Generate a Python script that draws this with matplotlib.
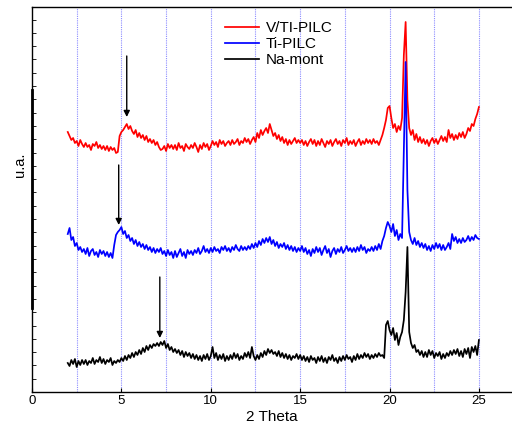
import matplotlib
matplotlib.use('Agg')
import matplotlib.pyplot as plt
import numpy as np

plt.rcParams['font.family'] = ['Liberation Sans', 'DejaVu Sans']

# 2-theta scan, 2 to 25 deg, 0.1 deg step
two_theta = np.round(np.arange(2.0, 25.05, 0.1), 1)

# intensities (arbitrary units, traces already stacked with offsets)
vti_pilc = [
    260, 256, 252, 254, 249, 251, 246, 252, 248, 245,
    249, 245, 247, 242, 248, 246, 250, 244, 247, 243,
    246, 242, 246, 241, 245, 242, 244, 239, 240, 256,
    260, 262, 265, 268, 263, 266, 261, 258, 262, 255,
    259, 254, 257, 252, 256, 250, 253, 249, 252, 247,
    250, 245, 242, 243, 246, 241, 248, 244, 247, 243,
    247, 242, 249, 244, 246, 241, 248, 245, 243, 247,
    244, 249, 245, 240, 247, 243, 249, 245, 248, 242,
    246, 251, 247, 250, 245, 252, 248, 251, 246, 249,
    251, 247, 252, 248, 250, 253, 247, 251, 249, 254,
    250, 253, 248, 252, 255, 250, 259, 254, 262, 257,
    261, 264, 259, 268, 262, 256, 259, 253, 257, 251,
    255, 249, 253, 247, 252, 248, 251, 254, 249, 252,
    249, 252, 247, 251, 246, 250, 253, 248, 252, 246,
    251, 247, 253, 249, 245, 251, 248, 252, 246, 250,
    253, 248, 251, 246, 252, 249, 254, 247, 251, 248,
    252, 246, 250, 253, 247, 251, 248, 253, 249, 252,
    248, 253, 249, 251, 247, 252, 257, 264, 272, 284,
    286, 274, 264, 268, 260, 266, 262, 274, 337, 370,
    292, 264, 257, 262, 252, 258, 250, 255, 249, 253,
    248, 252, 246, 251, 254, 249, 253, 248, 252, 256,
    251, 255, 250, 262, 254, 258, 252, 257, 253, 259,
    255, 260, 254, 258, 264, 261, 268, 266, 273, 278,
    285]

ti_pilc = [
    158, 164, 152, 155, 146, 149, 142, 145, 140, 143,
    138, 144, 136, 141, 143, 137, 140, 135, 142, 138,
    141, 136, 140, 135, 139, 134, 147, 157, 160, 162,
    165, 158, 161, 154, 157, 151, 154, 148, 152, 146,
    150, 145, 148, 143, 147, 142, 145, 140, 144, 139,
    143, 140, 144, 138, 141, 136, 142, 137, 140, 134,
    141, 135, 139, 143, 136, 140, 134, 142, 138, 141,
    137, 142, 139, 144, 138, 141, 146, 140, 143, 139,
    144, 140, 145, 141, 143, 139, 145, 142, 146, 141,
    144, 140, 145, 142, 147, 143, 141, 146, 142, 145,
    142, 146, 143, 148, 144, 149, 145, 151, 147, 153,
    149, 154, 150, 155, 148, 152, 146, 150, 144, 148,
    145, 149, 143, 147, 142, 146, 141, 145, 140, 144,
    141, 146, 140, 144, 138, 142, 136, 143, 139, 145,
    140, 144, 137, 142, 146, 139, 143, 135, 141, 144,
    138, 143, 140, 145, 139, 142, 146, 141, 144, 140,
    144, 140, 145, 141, 147, 142, 145, 139, 143, 141,
    145, 141, 146, 142, 148, 143, 151, 156, 164, 170,
    166, 160, 168, 156, 162, 152, 158, 154, 242, 330,
    202, 160, 152, 148, 154, 147, 151, 145, 149, 144,
    148, 142, 146, 141, 147, 143, 149, 144, 148, 142,
    147, 142, 145, 149, 143, 158, 151, 155, 149, 153,
    149, 154, 150, 152, 156, 151, 155, 152, 157, 154,
    153]

na_mont = [
    29, 26, 32, 28, 33, 25, 31, 27, 32, 28,
    32, 27, 31, 29, 34, 28, 32, 30, 35, 29,
    33, 28, 32, 30, 34, 27, 31, 29, 32, 30,
    34, 31, 36, 32, 37, 34, 39, 35, 40, 37,
    42, 38, 44, 40, 46, 42, 47, 44, 48, 46,
    49, 46, 50, 47, 51, 44, 48, 42, 45, 40,
    43, 39, 42, 37, 41, 35, 40, 36, 39, 34,
    38, 33, 37, 32, 36, 31, 37, 33, 38, 32,
    36, 45, 34, 39, 32, 37, 33, 38, 31, 36,
    32, 37, 33, 39, 34, 38, 32, 36, 33, 39,
    35, 40, 34, 45, 36, 32, 37, 33, 39, 35,
    41, 37, 43, 39, 42, 38, 40, 36, 41, 35,
    39, 34, 38, 33, 37, 32, 36, 34, 38, 33,
    37, 32, 36, 31, 35, 30, 36, 32, 34, 29,
    35, 31, 36, 30, 34, 29, 35, 32, 37, 31,
    34, 29, 35, 31, 36, 32, 37, 33, 35, 30,
    36, 32, 38, 33, 37, 34, 39, 35, 38, 33,
    37, 34, 38, 35, 39, 36, 37, 34, 67, 71,
    62, 57, 64, 52, 59, 47, 55, 60, 72, 100,
    145, 60, 49, 44, 47, 40, 42, 37, 41, 35,
    40, 35, 42, 37, 41, 34, 39, 36, 40, 33,
    38, 34, 39, 36, 41, 37, 42, 38, 43, 36,
    41, 35, 43, 38, 44, 34, 45, 40, 46, 37,
    52]

labels = ['V/TI-PILC', 'Ti-PILC', 'Na-mont']
colors = ['#ff0000', '#0000ff', '#000000']

# arrows: (2theta, start, end)
arrow_x = [5.3, 4.85, 7.15]
arrow_top = [336, 227, 115]
arrow_tip = [275, 167, 54]

fig = plt.figure(figsize=(5.12, 4.23), dpi=100)
ax = fig.add_axes([32/512, 31/423, 480/512, 385/423])

for xv in np.arange(2.5, 25.1, 2.5):
    ax.axvline(xv, color='#8c8cff', linestyle=(0, (1, 1)), lw=0.8, zorder=0)

for ys, lab, c in zip([vti_pilc, ti_pilc, na_mont], labels, colors):
    ax.plot(two_theta, ys, color=c, lw=1.25, label=lab)

for xa, y0, y1 in zip(arrow_x, arrow_top, arrow_tip):
    ax.annotate('', xy=(xa, y1), xytext=(xa, y0),
                arrowprops=dict(arrowstyle='-|>', color='k', lw=1.0,
                                mutation_scale=9, shrinkA=0, shrinkB=0))

ax.set_xlim(0, 26.85)
ax.set_ylim(0, 385)
ax.set_xticks([0, 5, 10, 15, 20, 25])
ax.set_yticks(np.arange(0, 385, 13.3))
ax.set_yticklabels([])
ax.tick_params(axis='y', direction='in', length=3, width=0.6)
ax.tick_params(axis='x', direction='in', length=3, labelsize=9.5, pad=2)
ax.spines['right'].set_visible(False)
for s in ['left', 'bottom', 'top']:
    ax.spines[s].set_linewidth(1.0)
ax.axvline(0, ymin=84/385, ymax=302/385, color='k', lw=2.0, clip_on=False)

ax.set_xlabel('2 Theta', fontsize=11, labelpad=2)
ax.text(-0.026, 0.59, 'u.a.', rotation=90, ha='center', va='center',
        fontsize=10.5, transform=ax.transAxes)

ax.legend(loc='upper left', bbox_to_anchor=(0.402, 0.963), frameon=False,
          fontsize=11, handlelength=2.2, handletextpad=0.45,
          labelspacing=0.12, borderpad=0, borderaxespad=0)

plt.savefig('out.png', dpi=100)
